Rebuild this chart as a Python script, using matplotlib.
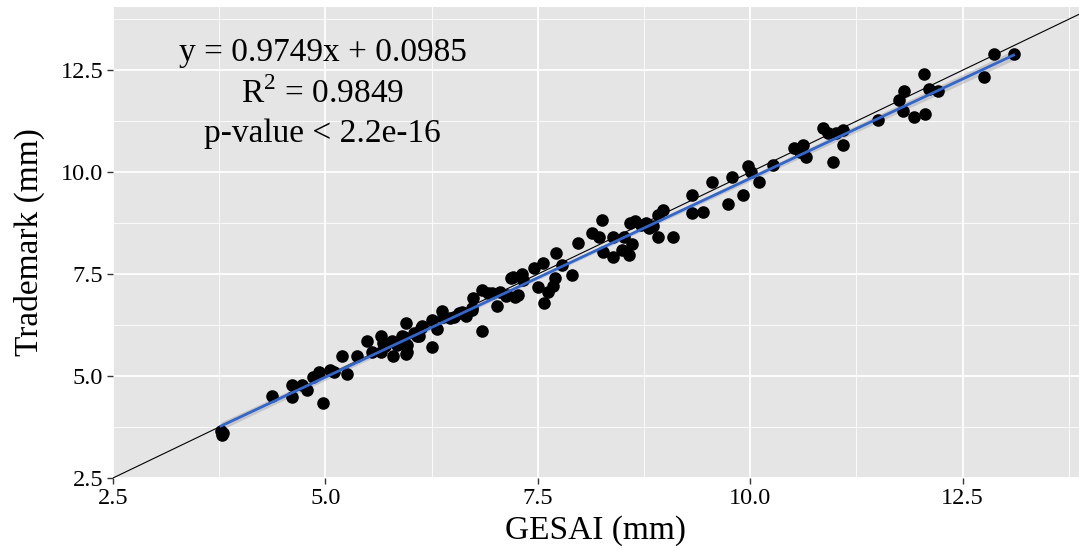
import numpy as np
import matplotlib
matplotlib.use("Agg")
import matplotlib.pyplot as plt
from matplotlib.ticker import MultipleLocator

plt.rcParams['font.family'] = ['Liberation Serif', 'DejaVu Serif']
plt.rcParams['mathtext.fontset'] = 'custom'
plt.rcParams['mathtext.rm'] = 'Liberation Serif'

# GESAI (x) vs Trademark (y), both in mm
gesai = [3.77, 3.79, 3.78, 4.37, 4.61, 4.61, 4.72, 4.78, 4.86, 4.92,
         4.97, 5.06, 5.10, 5.19, 5.25, 5.37, 5.49, 5.55, 5.66, 5.66,
         5.68, 5.70, 5.78, 5.80, 5.84, 5.90, 5.92, 5.95, 5.96, 5.96,
         5.95, 6.04, 6.08, 6.10, 6.12, 6.14, 6.25, 6.25, 6.31, 6.37,
         6.39, 6.47, 6.51, 6.57, 6.61, 6.66, 6.72, 6.72, 6.74, 6.84,
         6.84, 6.91, 6.96, 7.02, 7.06, 7.12, 7.14, 7.19, 7.21, 7.23,
         7.27, 7.31, 7.33, 7.45, 7.50, 7.56, 7.57, 7.62, 7.68, 7.70,
         7.72, 7.78, 7.90, 7.97, 8.14, 8.22, 8.26, 8.27, 8.38, 8.38,
         8.49, 8.51, 8.57, 8.61, 8.58, 8.64, 8.71, 8.77, 8.81, 8.86,
         8.91, 8.92, 8.97, 9.09, 9.32, 9.32, 9.44, 9.55, 9.74, 9.79,
         9.91, 9.97, 10.01, 10.10, 10.27, 10.51, 10.59, 10.62, 10.66, 10.86,
         10.92, 10.98, 11.01, 11.09, 11.09, 11.51, 11.75, 11.81, 11.80, 11.93,
         12.04, 12.06, 12.11, 12.21, 12.75, 12.87, 13.10]
trademark = [3.66, 3.60, 3.55, 4.50, 4.78, 4.48, 4.79, 4.66, 4.97, 5.10,
             4.33, 5.15, 5.11, 5.49, 5.06, 5.48, 5.87, 5.60, 5.98, 5.58,
             5.82, 5.73, 5.87, 5.48, 5.76, 5.99, 5.95, 6.30, 5.60, 5.76,
             5.55, 6.05, 5.97, 5.98, 6.18, 6.22, 6.38, 5.71, 6.15, 6.60,
             6.46, 6.42, 6.46, 6.54, 6.58, 6.48, 6.67, 6.62, 6.91, 7.12,
             6.11, 7.03, 7.03, 6.72, 7.07, 6.96, 6.99, 7.40, 7.44, 6.95,
             6.99, 7.50, 7.36, 7.64, 7.18, 7.78, 6.80, 7.07, 7.20, 7.40,
             8.02, 7.73, 7.49, 8.26, 8.50, 8.42, 8.83, 8.05, 8.42, 7.93,
             8.10, 8.42, 7.98, 8.24, 8.75, 8.79, 8.71, 8.75, 8.63, 8.67,
             8.42, 8.95, 9.08, 8.42, 9.44, 8.99, 9.03, 9.77, 9.22, 9.89,
             9.44, 10.14, 10.01, 9.77, 10.18, 10.59, 10.50, 10.67, 10.38, 11.08,
             10.96, 10.26, 10.96, 11.04, 10.67, 11.27, 11.77, 12.00, 11.49, 11.35,
             12.41, 11.43, 12.03, 11.98, 12.33, 12.90, 12.90]

# regression results printed on the chart
slope = 0.9749
intercept = 0.0985
eq_lines = ["y = 0.9749x + 0.0985", r"R$^{2}$ = 0.9849", "p-value < 2.2e-16"]

x = np.array(gesai)
y = np.array(trademark)

fig = plt.figure(figsize=(10.79, 5.5), dpi=100)
ax = fig.add_axes([0.1047, 0.1309, 0.8953, 0.8564])
ax.set_facecolor('#E5E5E5')
for s in ax.spines.values():
    s.set_visible(False)

ax.set_xlim(2.5, 13.87)
ax.set_ylim(2.5, 14.05)
ax.xaxis.set_major_locator(MultipleLocator(2.5))
ax.yaxis.set_major_locator(MultipleLocator(2.5))
ax.xaxis.set_minor_locator(MultipleLocator(1.25))
ax.yaxis.set_minor_locator(MultipleLocator(1.25))
ax.grid(which='major', color='white', lw=1.3)
ax.grid(which='minor', color='white', lw=0.6)
ax.set_axisbelow(True)
ax.tick_params(which='minor', length=0)
ax.tick_params(which='major', length=4, width=1, color='#333333',
               labelsize=17.5, labelcolor='black', pad=3)
ax.xaxis.set_major_formatter(plt.FormatStrFormatter('%.1f'))
ax.yaxis.set_major_formatter(plt.FormatStrFormatter('%.1f'))

# 1:1 line
ax.axline((2.5, 2.5), slope=1, color='black', lw=0.8, zorder=2)

# fitted line with confidence band
xs = np.linspace(x.min(), x.max(), 100)
ys = slope * xs + intercept
n = len(x)
resid = y - (slope * x + intercept)
sd = np.sqrt(np.sum(resid ** 2) / (n - 2))
se = sd * np.sqrt(1 / n + (xs - x.mean()) ** 2 / np.sum((x - x.mean()) ** 2))
ax.fill_between(xs, ys - 1.98 * se, ys + 1.98 * se, color='#999999', alpha=0.4, lw=0, zorder=3)

ax.scatter(x, y, s=82, color='black', zorder=4, linewidths=0)
ax.plot(xs, ys, color='#3366CC', lw=2, zorder=5)

for i, t in enumerate(eq_lines):
    ax.text(4.97, 12.93 - i * 1.0, t, ha='center', va='center', fontsize=24)

ax.set_xlabel('GESAI (mm)', fontsize=24, labelpad=5)
ax.set_ylabel('Trademark (mm)', fontsize=24, labelpad=11)

fig.savefig('out.png', dpi=100)
